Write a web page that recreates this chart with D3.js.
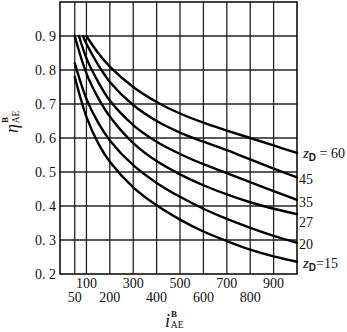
<!DOCTYPE html>
<html>
<head>
<meta charset="utf-8">
<script src="https://cdn.jsdelivr.net/npm/d3@7"></script>
<style>
  body { margin: 0; background: #fff; }
  text { font-family: "Liberation Serif", "DejaVu Serif", serif; fill: #111; }
</style>
</head>
<body>
<svg id="chart" width="347" height="332"></svg>
<script>
// Axis ticks
const xTicksUpper = [100, 300, 500, 700, 900];
const xTicksLower = [50, 200, 400, 600, 800];
const xGrid = [50, 100, 200, 300, 400, 500, 600, 700, 800, 900];
const yTicks = [0.2, 0.3, 0.4, 0.5, 0.6, 0.7, 0.8, 0.9];

// Efficiency curves, one per tooth count z_D: [i, eta]
const zD60 = [[100, 0.90], [150, 0.850], [200, 0.810], [300, 0.750], [400, 0.706], [500, 0.672], [600, 0.645], [700, 0.622], [800, 0.600], [900, 0.578], [1000, 0.556]];
const zD45 = [[85, 0.90], [100, 0.877], [150, 0.815], [200, 0.765], [300, 0.697], [400, 0.650], [500, 0.616], [600, 0.589], [700, 0.564], [800, 0.537], [900, 0.510], [1000, 0.484]];
const zD35 = [[68, 0.90], [100, 0.835], [150, 0.765], [200, 0.710], [300, 0.638], [400, 0.589], [500, 0.553], [600, 0.523], [700, 0.497], [800, 0.470], [900, 0.444], [1000, 0.418]];
const zD27 = [[50, 0.90], [100, 0.790], [150, 0.718], [200, 0.663], [300, 0.585], [400, 0.532], [500, 0.493], [600, 0.461], [700, 0.434], [800, 0.411], [900, 0.392], [1000, 0.376]];
const zD20 = [[50, 0.82], [100, 0.715], [150, 0.645], [200, 0.593], [300, 0.520], [400, 0.468], [500, 0.427], [600, 0.392], [700, 0.362], [800, 0.336], [900, 0.312], [1000, 0.292]];
const zD15 = [[50, 0.78], [100, 0.662], [150, 0.585], [200, 0.530], [300, 0.455], [400, 0.402], [500, 0.360], [600, 0.325], [700, 0.297], [800, 0.272], [900, 0.252], [1000, 0.236]];

const series = [zD60, zD45, zD35, zD27, zD20, zD15];
const seriesLabels = ["60", "45", "35", "27", "20", "15"];

const svg = d3.select("#chart");
const plotL = 60, plotR = 297, plotT = 2, plotB = 274;

const x = d3.scaleLinear().domain([-13, 1000]).range([plotL, plotR]);
const y = d3.scaleLinear().domain([0.2, 1.0]).range([plotB, plotT]);

// Grid
const grid = svg.append("g").attr("stroke", "#222").attr("stroke-width", 1.3);
grid.selectAll("line.v").data(xGrid).join("line").attr("class", "v")
  .attr("x1", d => x(d)).attr("x2", d => x(d))
  .attr("y1", plotT).attr("y2", plotB);
grid.selectAll("line.h").data(yTicks.slice(1)).join("line").attr("class", "h")
  .attr("x1", plotL).attr("x2", plotR)
  .attr("y1", d => y(d)).attr("y2", d => y(d));

// Frame
svg.append("rect")
  .attr("x", plotL).attr("y", plotT)
  .attr("width", plotR - plotL).attr("height", plotB - plotT)
  .attr("fill", "none").attr("stroke", "#111").attr("stroke-width", 1.6);

// Curves
const line = d3.line()
  .x(d => x(d[0])).y(d => y(d[1]))
  .curve(d3.curveCatmullRom.alpha(0.5));
svg.append("g").selectAll("path").data(series).join("path")
  .attr("d", line)
  .attr("fill", "none").attr("stroke", "#000").attr("stroke-width", 2.4)
  .attr("stroke-linecap", "round");

// Y tick labels
svg.append("g").selectAll("text").data(yTicks).join("text")
  .attr("x", 56).attr("y", d => y(d) + 4.5)
  .attr("text-anchor", "end").attr("font-size", 14)
  .text(d => d.toFixed(1).replace(".", ". "));

// X tick labels in two staggered rows
svg.append("g").selectAll("text").data(xTicksUpper).join("text")
  .attr("x", d => x(d)).attr("y", 288)
  .attr("text-anchor", "middle").attr("font-size", 14)
  .text(d => d);
svg.append("g").selectAll("text").data(xTicksLower).join("text")
  .attr("x", d => x(d)).attr("y", 301.5)
  .attr("text-anchor", "middle").attr("font-size", 14)
  .text(d => d);

// Curve labels at the right edge
const labelY = [158, 184, 206.7, 226.7, 249, 268.3];
const lab = svg.append("g");
seriesLabels.forEach((s, k) => {
  const t = lab.append("text").attr("y", labelY[k]).attr("font-size", 14);
  if (k === 0 || k === seriesLabels.length - 1) {
    t.attr("x", 303);
    t.append("tspan").attr("font-style", "italic").attr("font-size", 15).text("z");
    t.append("tspan").attr("font-family", "Liberation Sans, Arial, sans-serif").attr("font-weight", "bold")
      .attr("font-size", 10).attr("dy", 3).text("D");
    t.append("tspan").attr("dy", -3).text(k === 0 ? " = " + s : "=" + s);
  } else {
    t.attr("x", 299).text(s);
  }
});

// Axis titles: symbol with superscript B and subscript AE stacked
function stackedTitle(g, sym) {
  const t = g.append("text");
  t.append("tspan").attr("font-style", "italic").attr("font-size", 18).text(sym);
  t.append("tspan").attr("font-size", 9).attr("font-weight", "bold").attr("dx", 1).attr("dy", -10).text("B");
  t.append("tspan").attr("font-size", 9.5).attr("dx", -6.2).attr("dy", 11).text("AE");
}
stackedTitle(svg.append("g").attr("transform", "translate(165,327)"), "i");
stackedTitle(svg.append("g").attr("transform", "translate(18,133) rotate(-90)"), "η");
</script>
</body>
</html>
